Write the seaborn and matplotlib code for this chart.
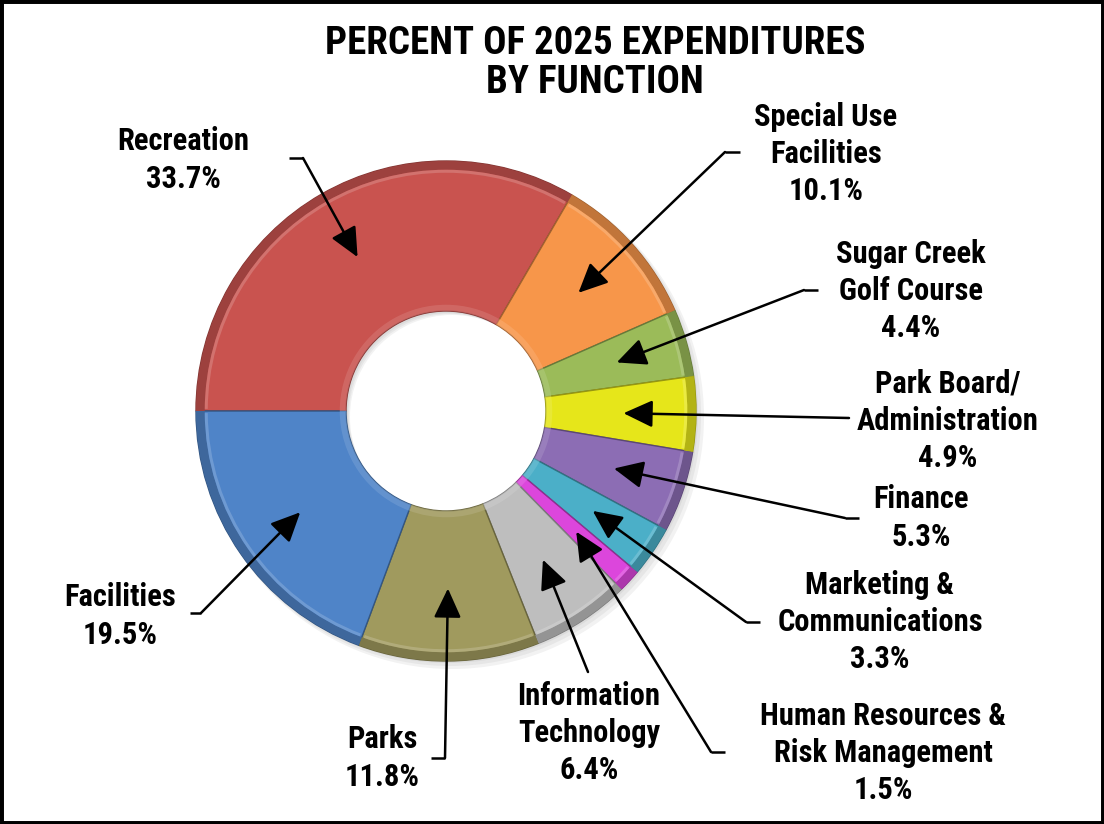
import os
import matplotlib
matplotlib.use("Agg")
import numpy as np
import pandas as pd
import seaborn as sns
import matplotlib.pyplot as plt
from matplotlib.patches import Wedge, Rectangle
from matplotlib import font_manager, colors as mcolors
from matplotlib.font_manager import FontProperties

# ---- data ----
categories = [
    "Recreation",
    "Special Use\nFacilities",
    "Sugar Creek\nGolf Course",
    "Park Board/\nAdministration",
    "Finance",
    "Marketing &\nCommunications",
    "Human Resources &\nRisk Management",
    "Information\nTechnology",
    "Parks",
    "Facilities",
]
percents = [33.7, 10.1, 4.4, 4.9, 5.3, 3.3, 1.5, 6.4, 11.8, 19.5]
slice_colors = [
    "#C9534F", "#F7964A", "#9BBB59", "#E6E61A", "#8C6DB4",
    "#4BAFC8", "#DC46DC", "#BEBEBE", "#A09A5E", "#4F84C8",
]

df = pd.DataFrame({"category": categories, "percent": percents})

sns.set_theme(style="white")
plt.rcParams["font.family"] = ["Liberation Sans", "DejaVu Sans"]

# prefer a narrow bold sans face for all chart text
narrow_candidates = [
    "liberationsansnarrow-bold.ttf", "arialnarrowbold.ttf", "arialnb.ttf",
    "robotocondensed-bold.ttf", "notosans-condensedbold.ttf",
    "opensans-condbold.ttf", "opensanscondensed-bold.ttf",
    "dejavusanscondensed-bold.ttf",
]
font_files = {os.path.basename(f.fname).lower(): f.fname
              for f in font_manager.fontManager.ttflist}
bold_file = next((font_files[n] for n in narrow_candidates if n in font_files), None)


def fprops(size):
    if bold_file:
        return FontProperties(fname=bold_file, size=size)
    return FontProperties(family=["Liberation Sans", "DejaVu Sans"],
                          weight="bold", size=size)


W, H = 1104, 824
fig = plt.figure(figsize=(W / 100, H / 100), dpi=100)
fig.patch.set_facecolor("white")

# donut geometry in figure pixels
CX, CY, R = 446, 411, 250
ax = fig.add_axes([(CX - R) / W, (H - CY - R) / H, 2 * R / W, 2 * R / H])

palette = sns.color_palette(slice_colors)
wedges, _ = ax.pie(
    df["percent"], colors=palette, startangle=180, counterclock=False,
    radius=1.0, wedgeprops=dict(width=0.6, linewidth=1.0),
)
ax.set_xlim(-1, 1)
ax.set_ylim(-1, 1)
ax.set_aspect("equal")
ax.axis("off")


def shade(c, f):
    rgb = np.array(mcolors.to_rgb(c))
    return tuple(rgb * (1 - f)) if f > 0 else tuple(rgb + (1 - rgb) * (-f))


# soft shadow behind the ring
for k, a in enumerate([0.10, 0.10, 0.10]):
    ax.add_patch(Wedge((0.008 * (k + 1), -0.008 * (k + 1)), 1.0 + 0.004 * k,
                       0, 360, width=0.6, color="#808080", alpha=a,
                       zorder=0, lw=0, clip_on=False))

# bevel: darker outer rim with a light line inside, light inner lip
for w, c in zip(wedges, palette):
    w.set_clip_on(False)
    w.set_edgecolor(shade(c, 0.35))
    t1, t2 = w.theta1, w.theta2
    ax.add_patch(Wedge((0, 0), 1.0, t1, t2, width=0.035,
                       color=shade(c, 0.22), lw=0, zorder=3, clip_on=False))
    ax.add_patch(Wedge((0, 0), 0.965, t1 + 0.5, t2 - 0.5, width=0.012,
                       color=shade(c, -0.3), lw=0, alpha=0.6, zorder=3,
                       clip_on=False))
    ax.add_patch(Wedge((0, 0), 0.425, t1, t2, width=0.025,
                       color=shade(c, -0.2), lw=0, alpha=0.6, zorder=3,
                       clip_on=False))


def px(x, y):
    return ((x - CX) / R, (CY - y) / R)


# label block centres and leader geometry (pixels): text, join point, tick end
label_pos = [(183, 160), (826, 154), (911, 291), (948, 421), (921, 518),
             (880, 622), (883, 753), (589, 733), (382, 758), (120, 616)]
leader_join = [(303, 158), (725, 152), (804, 290), (849, 418), (845, 518),
               (746, 622), (711, 752), (588, 672), (445, 758), (201, 613)]
leader_tick = [(289, 158), (740, 152), (818, 290), None, (859, 518),
               (760, 622), (725, 752), None, (431, 758), (190, 613)]

label_fp = fprops(22)
for i, (w, name, pct) in enumerate(zip(wedges, df["category"], df["percent"])):
    tx, ty = px(*label_pos[i])
    ax.text(tx, ty, f"{name}\n{pct:.1f}%", ha="center", va="center",
            fontproperties=label_fp, color="black",
            linespacing=1.3, clip_on=False, zorder=6)
    mid = np.deg2rad((w.theta1 + w.theta2) / 2)
    head = (0.71 * np.cos(mid), 0.71 * np.sin(mid))
    jx, jy = px(*leader_join[i])
    if leader_tick[i] is not None:
        kx, ky = px(*leader_tick[i])
        ax.plot([kx, jx], [ky, jy], color="black", lw=1.8,
                clip_on=False, zorder=6, solid_capstyle="butt")
    ax.annotate("", xy=head, xytext=(jx, jy), annotation_clip=False,
                arrowprops=dict(arrowstyle="-|>,head_length=0.9,head_width=0.42",
                                color="black", lw=1.8, shrinkA=0, shrinkB=0,
                                mutation_scale=20),
                zorder=7)

fig.text(595 / W, 1 - 63 / H, "PERCENT OF 2025 EXPENDITURES\nBY FUNCTION",
         ha="center", va="center", fontproperties=fprops(28),
         color="black", linespacing=1.05)

fig.add_artist(Rectangle((0, 0), 1, 1, transform=fig.transFigure,
                         fill=False, lw=5, edgecolor="black"))

fig.savefig("out.png", dpi=100, facecolor="white")
